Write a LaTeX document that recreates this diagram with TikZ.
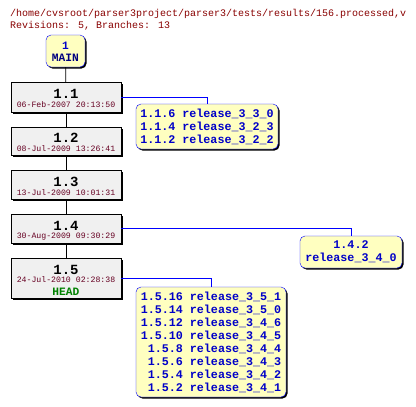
\documentclass[tikz,border=0pt]{standalone}
\usepackage{fontspec}
\newfontfamily\mono{Liberation Mono}
\usetikzlibrary{shadows}
\definecolor{titlered}{RGB}{136,0,0}
\definecolor{datered}{RGB}{102,0,34}
\definecolor{boxyellow}{RGB}{255,255,192}
\definecolor{revgray}{RGB}{240,240,240}
\definecolor{tagblue}{RGB}{0,0,200}
\definecolor{headgreen}{RGB}{0,128,0}
\begin{document}
\begin{tikzpicture}[x=1pt,y=-1pt,
  commit/.style={draw=black, fill=revgray, minimum width=110pt, inner sep=0pt,
    drop shadow={shadow xshift=2pt,shadow yshift=-2pt,fill=black,opacity=1}},
  tagbox/.style={draw=blue, fill=boxyellow, rounded corners=5pt, inner sep=0pt,
    text=tagblue, font=\mono\bfseries\fontsize{11.7}{13}\selectfont,
    drop shadow={shadow xshift=1.5pt,shadow yshift=-1.5pt,fill=black,opacity=1}},
  vertext/.style={anchor=base, inner sep=0pt, font=\mono\bfseries\fontsize{14}{14}\selectfont},
  datetext/.style={anchor=base, inner sep=0pt, text=datered, font=\mono\fontsize{8.2}{9}\selectfont},
  titletext/.style={anchor=base west, inner sep=0pt, text=titlered, font=\mono\fontsize{10}{12}\selectfont},
  link/.style={draw=black, line width=0.8pt},
  branchlink/.style={draw=blue, line width=0.8pt},
]
\useasboundingbox (0,0) rectangle (416,407);

\node[titletext] (t1) at (10,16) {/home/cvsroot/parser3project/parser3/tests/results/156.processed,v};
\node[titletext] (t2) at (10,28) {Revisions: 5, Branches: 13};

% MAIN
\node[tagbox, minimum width=39pt, minimum height=32pt] (main) at (65.5,51) {};
\node[anchor=base, inner sep=0pt, text=tagblue, font=\mono\bfseries\fontsize{11.25}{12}\selectfont] (mainnum) at (65.5,49) {1};
\node[anchor=base, inner sep=0pt, text=blue!50!black, font=\mono\bfseries\fontsize{11.25}{12}\selectfont] (mainname) at (65.5,61) {MAIN};

% commits
\node[commit, minimum height=30pt] (v11) at (66,97) {};
\node[vertext] (v11a) at (66,98) {1.1};
\node[datetext] (v11b) at (66,107) {06-Feb-2007 20:13:50};

\node[commit, minimum height=28pt] (v12) at (66,141) {};
\node[vertext] (v12a) at (66,142) {1.2};
\node[datetext] (v12b) at (66,151) {08-Jul-2009 13:26:41};

\node[commit, minimum height=29pt] (v13) at (66,184.5) {};
\node[vertext] (v13a) at (66,186) {1.3};
\node[datetext] (v13b) at (66,195) {13-Jul-2009 10:01:31};

\node[commit, minimum height=29pt] (v14) at (66,228.5) {};
\node[vertext] (v14a) at (66,230) {1.4};
\node[datetext] (v14b) at (66,238.5) {30-Aug-2009 09:30:29};

\node[commit, minimum height=40pt] (v15) at (66,278) {};
\node[vertext] (v15a) at (66,274) {1.5};
\node[datetext] (v15b) at (66,282.5) {24-Jul-2010 02:28:38};
\node[anchor=base, inner sep=0pt, text=headgreen, font=\mono\bfseries\fontsize{11.25}{12}\selectfont] (head) at (66,295) {HEAD};

% branch tags
\node[tagbox, minimum width=142pt, minimum height=45pt, align=left] (b11) at (207,126.5)
  {1.1.6 release\_3\_3\_0\\1.1.4 release\_3\_2\_3\\1.1.2 release\_3\_2\_2};
\node[tagbox, minimum width=102pt, minimum height=32pt, align=center] (b14) at (351,252)
  {1.4.2\\release\_3\_4\_0};
\node[tagbox, minimum width=150pt, minimum height=110pt, align=left] (b15) at (211,342)
  {1.5.16 release\_3\_5\_1\\1.5.14 release\_3\_5\_0\\1.5.12 release\_3\_4\_6\\1.5.10 release\_3\_4\_5\\
   \phantom{1}1.5.8 release\_3\_4\_4\\\phantom{1}1.5.6 release\_3\_4\_3\\\phantom{1}1.5.4 release\_3\_4\_2\\\phantom{1}1.5.2 release\_3\_4\_1};

% connectors
\draw[link] (main) -- (v11);
\draw[link] (v11) -- (v12);
\draw[link] (v12) -- (v13);
\draw[link] (v13) -- (v14);
\draw[link] (v14) -- (v15);
\draw[branchlink] (v11.east) -| (b11.north);
\draw[branchlink] (v14.east) -| (b14.north);
\draw[branchlink] (v15.east) -| (b15.north);
\end{tikzpicture}
\end{document}
